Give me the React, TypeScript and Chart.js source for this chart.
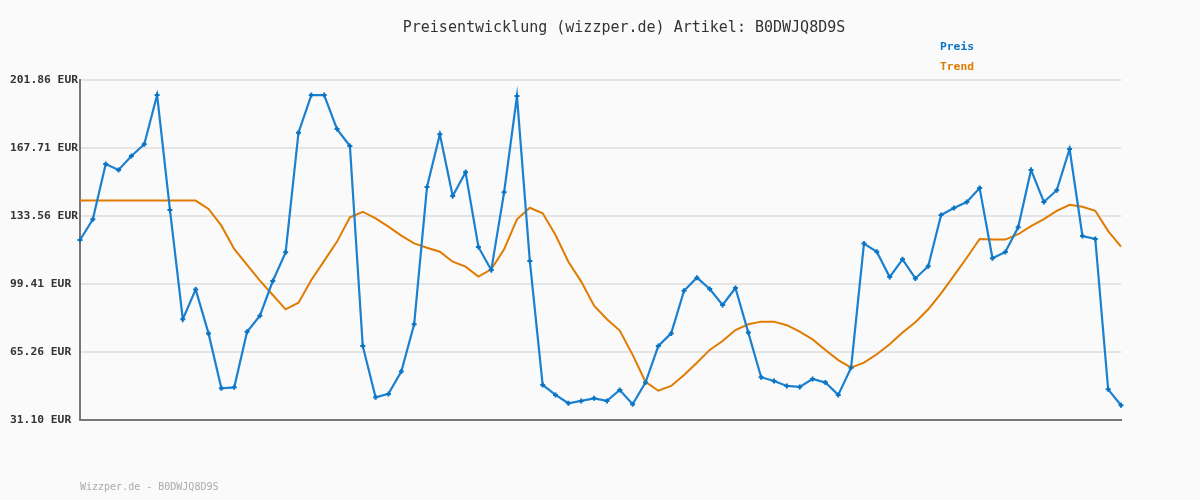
import React, { useEffect, useRef } from "react";
import { Chart, registerables } from "chart.js";

Chart.register(...registerables);

const TITLE = "Preisentwicklung (wizzper.de) Artikel: B0DWJQ8D9S";
const FOOTER = "Wizzper.de - B0DWJQ8D9S";
const SERIES_NAMES = ["Preis", "Trend"];

const preis = [
  121.5, 131.9, 159.7, 156.7, 163.7, 169.6, 194.3, 136.6, 81.7, 96.7,
  74.6, 47.0, 47.5, 75.4, 83.5, 100.9, 115.3, 175.4, 194.3, 194.3,
  177.2, 168.7, 68.3, 42.5, 44.2, 55.4, 79.2, 148.1, 174.6, 143.6,
  155.5, 118.0, 106.4, 145.5, 193.8, 111.0, 48.7, 43.7, 39.5, 40.7,
  42.0, 40.7, 46.2, 39.0, 49.9, 68.3, 74.6, 96.0, 102.6, 96.9,
  88.9, 97.4, 75.0, 52.6, 50.7, 48.2, 47.7, 51.7, 49.9, 43.7,
  57.4, 119.7, 115.6, 102.9, 111.8, 102.2, 108.3, 134.1, 137.6, 140.6,
  147.6, 112.3, 115.5, 127.9, 156.7, 140.6, 146.5, 167.2, 123.5, 122.0,
  46.5, 38.5,
];

const trend = [
  141.3, 141.3, 141.3, 141.3, 141.3, 141.3, 141.3, 141.3, 141.3, 141.3,
  137.1, 128.7, 117.0, 109.0, 101.1, 93.9, 86.7, 90.0, 101.4, 111.0,
  120.7, 132.9, 135.7, 132.4, 128.2, 123.7, 119.8, 117.6, 115.6, 110.6,
  108.1, 103.1, 106.8, 116.8, 131.9, 137.7, 134.9, 124.0, 110.6, 100.6,
  88.5, 81.7, 76.0, 63.8, 50.3, 45.8, 48.2, 53.7, 59.9, 66.3,
  70.8, 76.3, 79.2, 80.5, 80.5, 78.7, 75.5, 71.6, 66.3, 61.2,
  57.4, 59.9, 64.1, 69.1, 75.0, 80.2, 86.7, 94.7, 103.6, 112.6,
  122.0, 121.7, 121.7, 124.4, 128.5, 132.0, 136.1, 139.2, 138.2, 136.2,
  126.0, 118.2,
];

const categories = preis.map((_, i) => String(i + 1));

const yTicks = [31.10, 65.26, 99.41, 133.56, 167.71, 201.86];

const BLUE = "#1a80cf";
const BLUE_TEXT = "#0a74c4";
const ORANGE = "#e07b00";

const textPlugin = {
  id: "textPlugin",
  afterDraw(chart: any) {
    const ctx = chart.ctx;
    ctx.save();
    ctx.textBaseline = "middle";
    ctx.fillStyle = "#333333";
    ctx.textAlign = "center";
    ctx.font = "15px 'DejaVu Sans Mono', monospace";
    ctx.fillText(TITLE, 624, 28);
    ctx.textAlign = "left";
    ctx.font = "bold 11.3px 'DejaVu Sans Mono', monospace";
    ctx.fillStyle = BLUE_TEXT;
    ctx.fillText(SERIES_NAMES[0], 940, 47);
    ctx.fillStyle = ORANGE;
    ctx.fillText(SERIES_NAMES[1], 940, 67);
    ctx.font = "10px 'DejaVu Sans Mono', monospace";
    ctx.fillStyle = "#aaaaaa";
    ctx.fillText(FOOTER, 80, 487);
    ctx.restore();
  },
};

const bgPlugin = {
  id: "bgPlugin",
  beforeDraw(chart: any) {
    const ctx = chart.ctx;
    ctx.save();
    ctx.fillStyle = "#fafafa";
    ctx.fillRect(0, 0, chart.width, chart.height);
    ctx.restore();
  },
};

export default function App() {
  const ref = useRef<HTMLCanvasElement | null>(null);
  useEffect(() => {
    if (!ref.current) return;
    const chart = new Chart(ref.current, {
      type: "line",
      data: {
        labels: categories,
        datasets: [
          {
            label: SERIES_NAMES[1],
            data: trend,
            borderColor: ORANGE,
            borderWidth: 2,
            pointRadius: 0,
            tension: 0,
            order: 2,
          },
          {
            label: SERIES_NAMES[0],
            data: preis,
            borderColor: BLUE,
            backgroundColor: BLUE,
            borderWidth: 2.2,
            pointStyle: "cross",
            pointRadius: 2.5,
            pointBorderWidth: 2,
            pointBorderColor: "#0a74c4",
            tension: 0,
            order: 1,
          },
        ],
      },
      options: {
        animation: false,
        responsive: false,
        maintainAspectRatio: false,
        layout: { padding: { left: 10, right: 79, top: 80, bottom: 80 } },
        plugins: {
          legend: { display: false },
          title: { display: false },
          tooltip: { enabled: false },
        },
        scales: {
          x: {
            type: "category",
            offset: false,
            grid: { display: false, drawTicks: false },
            ticks: { display: false },
            border: { display: true, color: "#777777", width: 2 },
            afterFit: (s: any) => {
              s.height = 0;
            },
          },
          y: {
            min: 31.10,
            max: 201.86,
            afterBuildTicks: (s: any) => {
              s.ticks = yTicks.map((v) => ({ value: v }));
            },
            afterFit: (s: any) => {
              s.width = 70;
            },
            grid: { color: "#e4e4e4", lineWidth: 2, drawTicks: false },
            border: { display: true, color: "#777777", width: 2 },
            ticks: {
              crossAlign: "far",
              padding: 0,
              color: "#333333",
              font: { family: "'DejaVu Sans Mono', monospace", size: 11.3, weight: "bold" },
              callback: (v: any) => Number(v).toFixed(2) + " EUR",
            },
          },
        },
      },
      plugins: [bgPlugin, textPlugin],
    });
    return () => chart.destroy();
  }, []);
  return (
    <div style={{ position: "fixed", left: 0, top: 0, width: 1200, height: 500 }}>
      <canvas ref={ref} width={1200} height={500} style={{ width: 1200, height: 500 }} />
    </div>
  );
}
